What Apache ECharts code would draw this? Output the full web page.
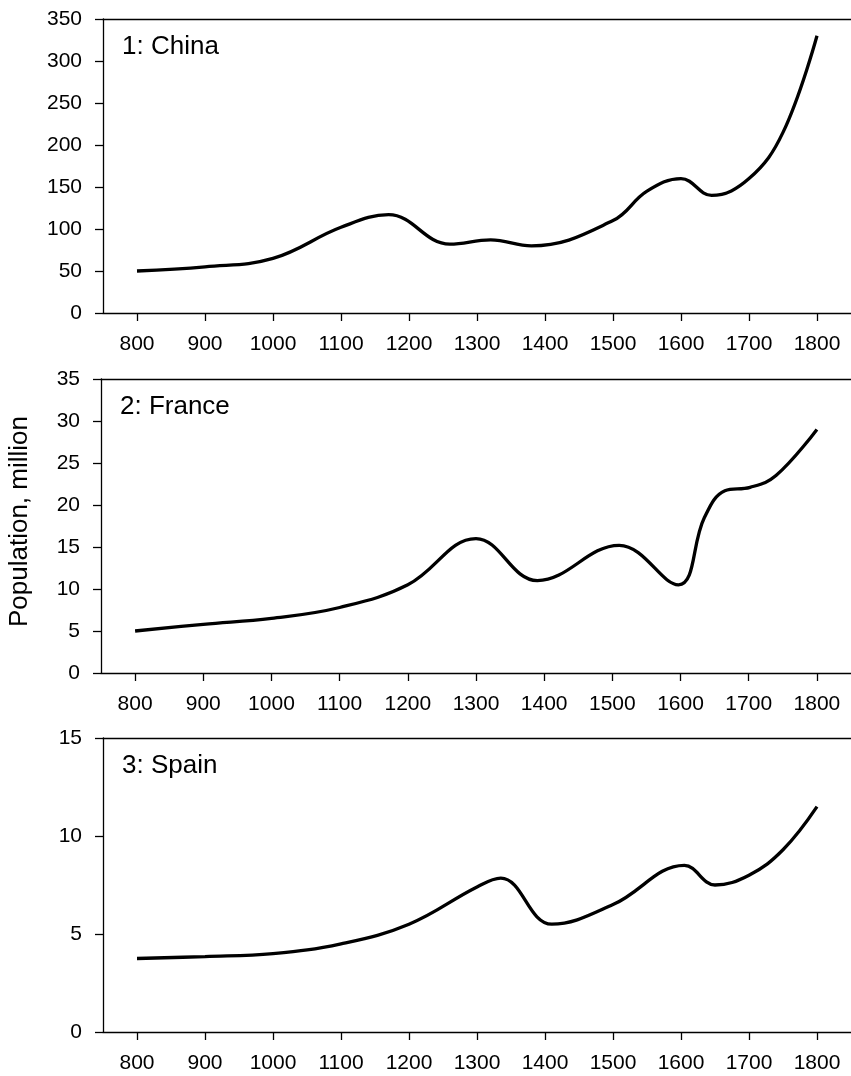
<!DOCTYPE html>
<html>
<head>
<meta charset="utf-8">
<script src="https://cdn.jsdelivr.net/npm/echarts@6/dist/echarts.min.js"></script>
<style>
html,body{margin:0;padding:0;background:#fff;}
#c{width:851px;height:1076px;}
</style>
</head>
<body>
<div id="c"></div>
<script>
// ---- data ----
const xTicks = [800, 900, 1000, 1100, 1200, 1300, 1400, 1500, 1600, 1700, 1800];

const chinaYears = [800, 900, 1000, 1100, 1170, 1260, 1320, 1380, 1500, 1550, 1600, 1645, 1700, 1750, 1800];
const chinaPop   = [50, 55, 65, 102, 117, 82, 87, 80, 110, 145, 160, 140, 160, 215, 330];

const franceYears = [800, 900, 1000, 1100, 1200, 1300, 1390, 1510, 1597, 1635, 1665, 1702, 1740, 1800];
const francePop   = [5, 5.8, 6.5, 7.8, 10.5, 16, 11, 15.2, 10.5, 18.5, 21.7, 22.1, 23.5, 29];

const spainYears = [800, 900, 1000, 1100, 1200, 1300, 1335, 1410, 1500, 1605, 1650, 1700, 1750, 1800];
const spainPop   = [3.75, 3.85, 4.0, 4.5, 5.5, 7.4, 7.85, 5.5, 6.5, 8.5, 7.5, 8.0, 9.3, 11.5];

const panelNames = ['1: China', '2: France', '3: Spain'];
const yMax = [350, 35, 15];
const yStep = [50, 5, 5];
const yTitle = 'Population, million';

// ---- chart ----
const FONT = '"Liberation Sans", Arial, sans-serif';
const grids = [
  {left: 103, top: 19, width: 751, height: 294},
  {left: 101, top: 379, width: 751, height: 294},
  {left: 103, top: 738, width: 751, height: 294}
];
const seriesData = [
  chinaYears.map((y, i) => [y, chinaPop[i]]),
  franceYears.map((y, i) => [y, francePop[i]]),
  spainYears.map((y, i) => [y, spainPop[i]])
];

const lineStyle = {color: '#000', width: 1.3};
const xAxes = [], yAxes = [], series = [], graphics = [];
grids.forEach((g, k) => {
  xAxes.push({
    type: 'value', gridIndex: k, position: 'bottom', min: 750, max: 1850,
    axisLine: {show: true, onZero: false, lineStyle},
    axisTick: {show: true, length: 8, lineStyle, customValues: xTicks},
    axisLabel: {show: true, customValues: xTicks, fontSize: 21, color: '#000', fontFamily: FONT, margin: 21,
      formatter: v => String(v)},
    splitLine: {show: false}
  });
  xAxes.push({
    type: 'value', gridIndex: k, position: 'top', min: 750, max: 1850,
    axisLine: {show: true, onZero: false, lineStyle},
    axisTick: {show: false}, axisLabel: {show: false}, splitLine: {show: false}
  });
  yAxes.push({
    type: 'value', gridIndex: k, min: 0, max: yMax[k], interval: yStep[k],
    axisLine: {show: true, onZero: false, lineStyle},
    axisTick: {show: true, length: 8, lineStyle},
    axisLabel: {fontSize: 21, color: '#000', fontFamily: FONT, margin: 21, formatter: v => String(v)},
    splitLine: {show: false}
  });
  series.push({
    type: 'line', xAxisIndex: 2 * k, yAxisIndex: k, data: seriesData[k],
    smooth: 0.4, showSymbol: false, symbol: 'none',
    lineStyle: {color: '#000', width: 3.3}, silent: true, animation: false
  });
  graphics.push({
    type: 'text', left: g.left + 19, top: g.top + 27.7 - 13,
    style: {text: panelNames[k], font: '26px ' + FONT, fill: '#000'}
  });
});
graphics.push({
  type: 'text', x: 20, y: 521.5, rotation: Math.PI / 2,
  style: {text: yTitle, font: '26px ' + FONT, fill: '#000', align: 'center', verticalAlign: 'middle'}
});

const chart = echarts.init(document.getElementById('c'), null, {renderer: 'canvas'});
chart.setOption({
  animation: false,
  backgroundColor: '#fff',
  grid: grids,
  xAxis: xAxes,
  yAxis: yAxes,
  series: series,
  graphic: graphics
});
</script>
</body>
</html>
